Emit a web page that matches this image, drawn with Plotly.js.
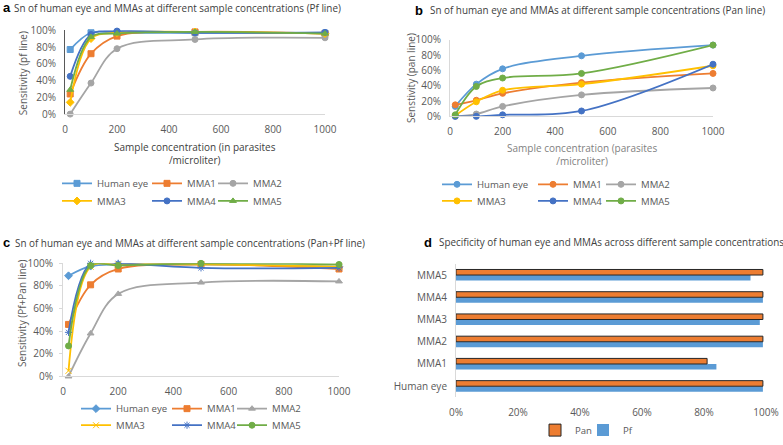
<!DOCTYPE html>
<html><head><meta charset="utf-8">
<script src="https://cdn.plot.ly/plotly-3.0.1.min.js"></script>
<style>html,body{margin:0;padding:0;background:#fff}</style>
</head><body><div id="chart" style="width:783px;height:445px"></div>
<script>
// ---- data ----
const concentrations = [20, 100, 200, 500, 1000];
const seriesNames = ['Human eye', 'MMA1', 'MMA2', 'MMA3', 'MMA4', 'MMA5'];

// (a) Pf line sensitivity
const pfHumanEye = [0.77, 0.97, 0.97, 0.97, 0.965];
const pfMMA1     = [0.24, 0.72, 0.93, 0.98, 0.96];
const pfMMA2     = [0.00, 0.37, 0.78, 0.89, 0.91];
const pfMMA3     = [0.14, 0.90, 0.97, 0.98, 0.96];
const pfMMA4     = [0.45, 0.95, 0.99, 0.97, 0.975];
const pfMMA5     = [0.29, 0.92, 0.96, 0.98, 0.96];

// (b) Pan line sensitivity
const panHumanEye = [0.13, 0.42, 0.62, 0.79, 0.93];
const panMMA1     = [0.15, 0.21, 0.30, 0.44, 0.56];
const panMMA2     = [0.00, 0.03, 0.13, 0.28, 0.37];
const panMMA3     = [0.01, 0.19, 0.34, 0.42, 0.66];
const panMMA4     = [0.00, 0.00, 0.02, 0.07, 0.68];
const panMMA5     = [0.02, 0.39, 0.50, 0.56, 0.93];

// (c) Pan+Pf line sensitivity
const mixHumanEye = [0.89, 0.975, 0.99, 0.99, 0.97];
const mixMMA1     = [0.46, 0.81, 0.95, 0.99, 0.95];
const mixMMA2     = [0.00, 0.38, 0.73, 0.83, 0.84];
const mixMMA3     = [0.05, 0.97, 0.99, 0.99, 0.97];
const mixMMA4     = [0.39, 1.00, 1.00, 0.96, 0.96];
const mixMMA5     = [0.27, 0.98, 0.98, 1.00, 0.99];

// (d) Specificity
const specCategories = ['Human eye', 'MMA1', 'MMA2', 'MMA3', 'MMA4', 'MMA5'];
const specPan = [0.99, 0.81, 0.99, 0.99, 0.99, 0.99];
const specPf  = [0.99, 0.84, 0.99, 0.98, 0.99, 0.95];

const xTickVals = [0, 200, 400, 600, 800, 1000];

// ---- styling ----
const colors = ['#5B9BD5', '#ED7D31', '#A5A5A5', '#FFC000', '#4472C4', '#70AD47'];
const FONT = 'Open Sans, Noto Sans, sans-serif';
const symA = ['square', 'square', 'circle', 'diamond', 'circle', 'triangle-up'];
const symB = ['circle', 'circle', 'circle', 'circle', 'circle', 'circle'];
const symC = ['diamond', 'square', 'triangle-up', 'x-thin-open', 'asterisk-open', 'circle'];

const legId = n => (n === 1 ? 'legend' : 'legend' + n);

function lineTraces(vals, syms, xa, ya, legStart) {
  return vals.map((v, i) => ({
    type: 'scatter', mode: 'lines+markers', x: concentrations, y: v,
    name: seriesNames[i], xaxis: xa, yaxis: ya,
    legend: legId(legStart + i),
    line: {color: colors[i], width: 1.8, shape: 'spline', smoothing: 1},
    marker: {symbol: syms[i], size: 6, color: colors[i], line: {color: colors[i], width: 1}},
    cliponaxis: false
  }));
}

const traces = [
  ...lineTraces([pfHumanEye, pfMMA1, pfMMA2, pfMMA3, pfMMA4, pfMMA5], symA, 'x', 'y', 1),
  ...lineTraces([panHumanEye, panMMA1, panMMA2, panMMA3, panMMA4, panMMA5], symB, 'x2', 'y2', 7),
  ...lineTraces([mixHumanEye, mixMMA1, mixMMA2, mixMMA3, mixMMA4, mixMMA5], symC, 'x3', 'y3', 13),
  {type: 'bar', orientation: 'h', name: 'Pf', y: specCategories, x: specPf, xaxis: 'x4', yaxis: 'y4',
   legend: legId(20), marker: {color: '#5B9BD5', line: {width: 0}}},
  {type: 'bar', orientation: 'h', name: 'Pan', y: specCategories, x: specPan, xaxis: 'x4', yaxis: 'y4',
   legend: legId(19), marker: {color: '#ED7D31', line: {color: '#262626', width: 1}}}
];

const W = 783, H = 445;
const px = v => v / W;
const py = v => 1 - v / H;

const tickFont = {family: FONT, size: 10, color: '#595959'};
function xAx(d0, d1, anchor) {
  return {domain: [px(d0), px(d1)], range: [0, 1000], tickvals: xTickVals, anchor: anchor,
    showgrid: false, zeroline: false, showline: true, linecolor: '#D9D9D9', linewidth: 1,
    ticks: '', tickfont: tickFont, ticklabelstandoff: 6, fixedrange: true};
}
function yAx(top, bottom, anchor, lc) {
  return {domain: [py(bottom), py(top)], range: [0, 1], dtick: 0.2, tickformat: '.0%', anchor: anchor,
    showgrid: false, zeroline: false, showline: true, linecolor: lc, linewidth: 1,
    ticks: '', tickfont: tickFont, ticklabelstandoff: 6, fixedrange: true};
}

function leg(x, y) {
  return {orientation: 'h', x: px(x), y: py(y), xanchor: 'left', yanchor: 'middle',
    font: {family: FONT, size: 9.6, color: '#595959'},
    itemwidth: 30, bgcolor: 'rgba(0,0,0,0)', tracegroupgap: 0, itemclick: false};
}

const titleFont = {family: FONT, size: 9.9, color: '#404040'};
const letterFont = {family: 'Liberation Sans, Arial, sans-serif', size: 13, color: '#000', weight: 'bold'};
function ann(text, x, y, font, extra) {
  return Object.assign({text: text, x: px(x), y: py(y), xref: 'paper', yref: 'paper',
    showarrow: false, xanchor: 'left', yanchor: 'middle', font: font}, extra || {});
}

const layout = {
  width: W, height: H, margin: {l: 0, r: 0, t: 0, b: 0},
  paper_bgcolor: '#fff', plot_bgcolor: 'rgba(0,0,0,0)', showlegend: true,
  font: {family: FONT},
  barmode: 'group', bargap: 0.5, bargroupgap: 0,
  xaxis: xAx(65, 325, 'y'),
  yaxis: yAx(31, 117, 'x', '#595959'),
  xaxis2: xAx(450, 713, 'y2'),
  yaxis2: yAx(40.7, 119.3, 'x2', '#D9D9D9'),
  xaxis3: xAx(63, 339, 'y3'),
  yaxis3: Object.assign(yAx(270, 386, 'x3', '#D9D9D9'), {ticks: 'outside', ticklen: 3, tickcolor: '#D9D9D9', ticklabelstandoff: 4}),
  xaxis4: {domain: [px(456), px(766)], range: [0, 1], dtick: 0.2, tickformat: '.0%', anchor: 'y4',
    showgrid: false, zeroline: false, showline: false, ticks: '', tickfont: tickFont,
    ticklabelstandoff: 8, fixedrange: true},
  yaxis4: {domain: [py(407.4), py(270.6)], anchor: 'x4', type: 'category', showgrid: false,
    showline: true, linecolor: '#D9D9D9', ticks: '', tickfont: tickFont, ticklabelstandoff: 6, fixedrange: true},
  annotations: [
    ann('a', 1, 8, letterFont),
    ann('Sn of human eye and MMAs at different sample concentrations (Pf line)', 12, 8, titleFont),
    ann('b', 413, 11, letterFont),
    ann('Sn of human eye and MMAs at different sample concentrations (Pan line)', 428, 10, titleFont),
    ann('c', 1, 249, letterFont),
    ann('Sn of human eye and MMAs at different sample concentrations (Pan+Pf line)', 13, 249, titleFont),
    ann('d', 422, 249, letterFont),
    ann('Specificity of human eye and MMAs across different sample concentrations', 437, 248, titleFont),
    ann('Sensitivity (pf line)', 23, 75, tickFont, {xanchor: 'center', textangle: -90}),
    ann('Senstivity (pan line)', 411, 80, tickFont, {xanchor: 'center', textangle: -90}),
    ann('Sensitivity (Pf+Pan line)', 22, 322, tickFont, {xanchor: 'center', textangle: -90}),
    ann('Sample concentration (in parasites<br>/microliter)', 195, 157,
        {family: FONT, size: 10, color: '#404040'}, {xanchor: 'center'}),
    ann('Sample concentration (parasites<br>/microliter)', 582, 158,
        {family: FONT, size: 10, color: '#7F7F7F'}, {xanchor: 'center'})
  ]
};

// legend placement: one legend per entry (3 columns x 2 rows per line panel)
const legCols = {a: [57, 147, 213], b: [437, 533, 601], c: [76, 167, 232]};
const legRows = {a: [188, 206], b: [189, 206], c: [419, 436]};
const panelStart = {a: 1, b: 7, c: 13};
['a', 'b', 'c'].forEach(p => {
  for (let i = 0; i < 6; i++) {
    layout[legId(panelStart[p] + i)] = leg(legCols[p][i % 3], legRows[p][Math.floor(i / 3)]);
  }
});
layout[legId(19)] = leg(535, 441);
layout[legId(20)] = leg(583, 441);

Plotly.newPlot('chart', traces, layout, {displayModeBar: false, staticPlot: true});
</script></body></html>
